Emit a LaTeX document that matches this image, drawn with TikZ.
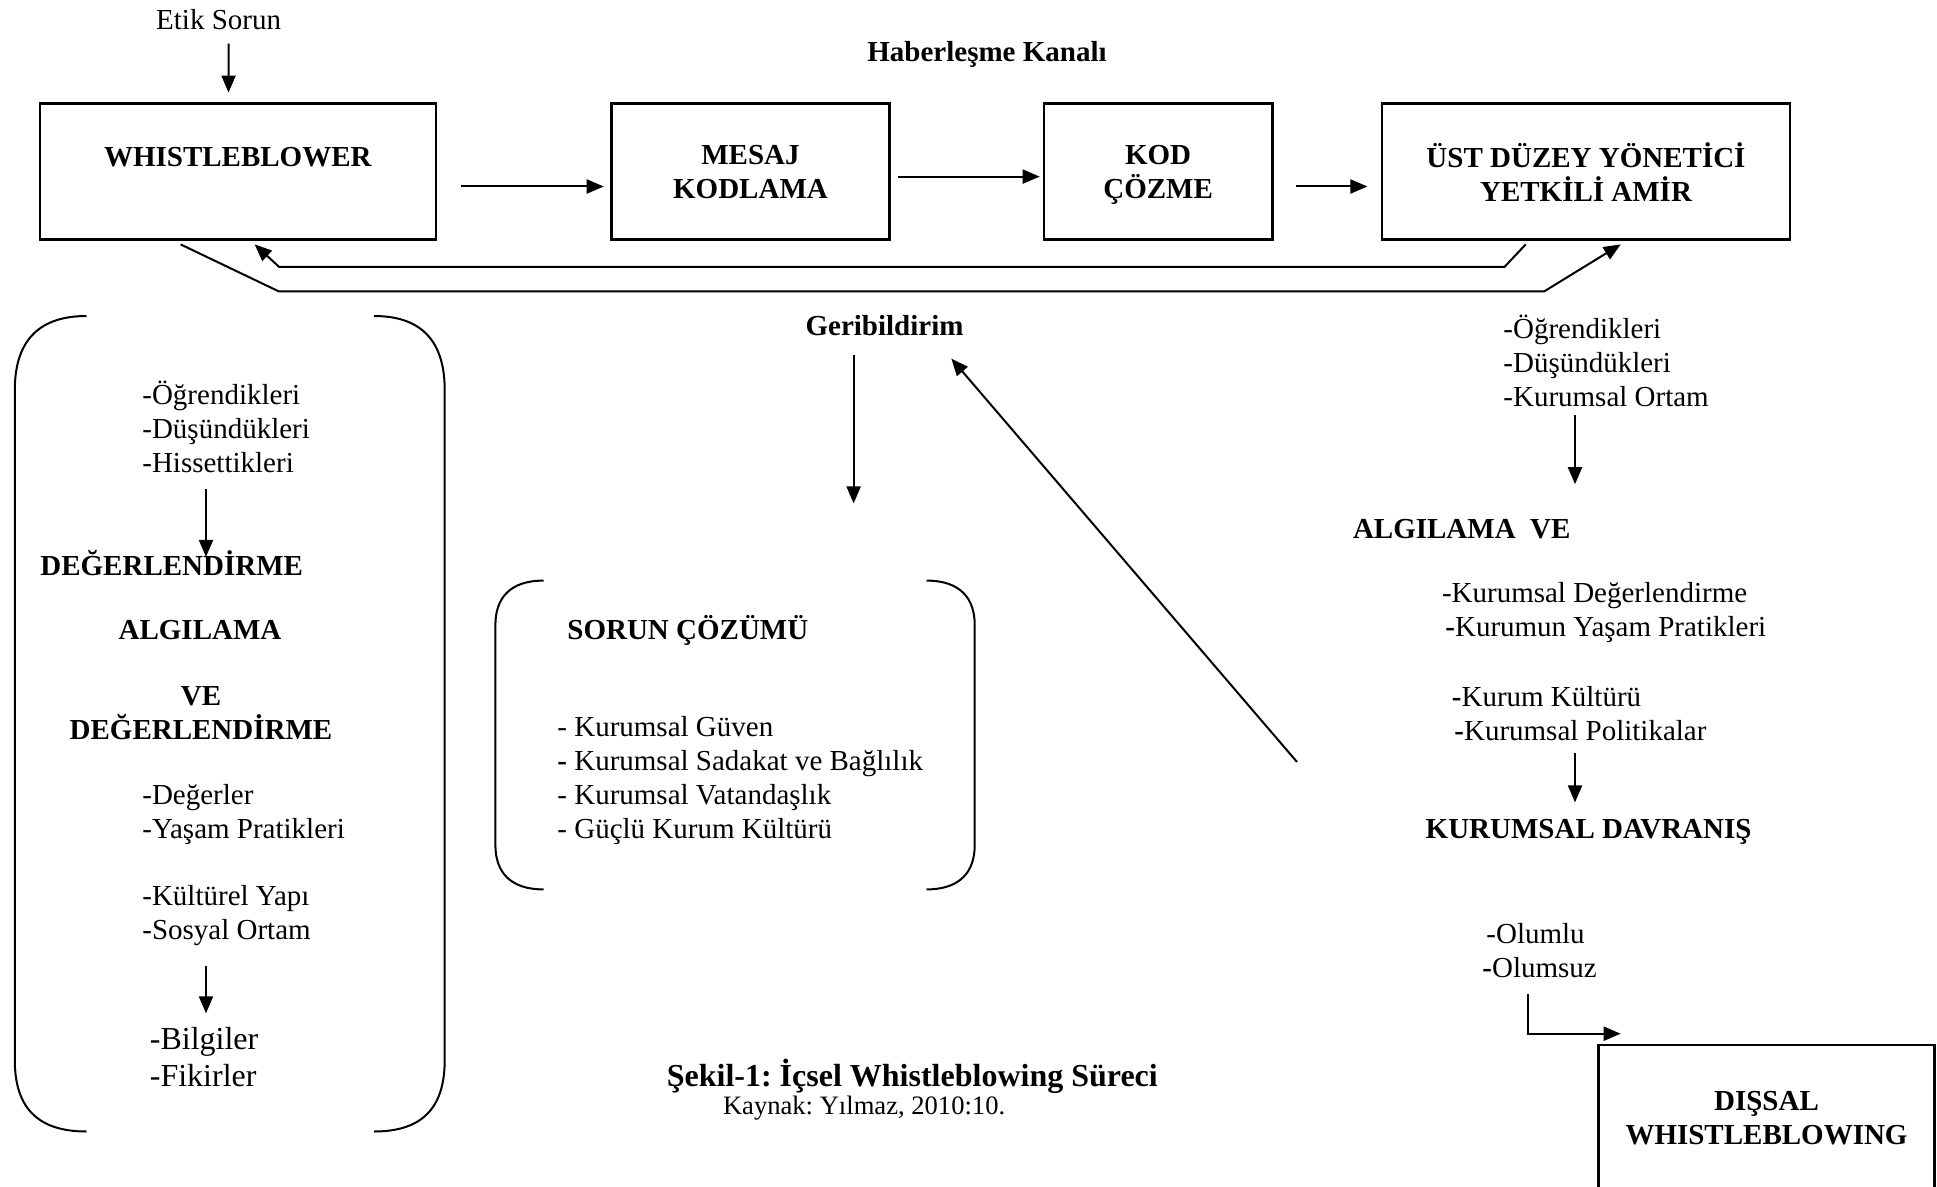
\documentclass[tikz,border=0pt]{standalone}
\usepackage{fontspec}
\setmainfont{Liberation Serif}
\frenchspacing
\usetikzlibrary{arrows.meta, positioning}
\tikzstyle{arrow} = [line width=1pt,-{Triangle[length=8.5pt,width=7pt]}]
\tikzstyle{blok} = [draw, line width=1.3pt, inner sep=0pt, align=center, text depth=0pt, font=\fontsize{14.5}{17}\selectfont\bfseries]
\tikzstyle{baslik} = [inner sep=0pt, align=center, font=\fontsize{14.5}{17}\selectfont\bfseries]
\tikzstyle{yazi} = [inner sep=0pt, align=left, anchor=west, font=\fontsize{14.5}{17}\selectfont]
\tikzstyle{parantez} = [line width=1pt]

\begin{document}
\begin{tikzpicture}[x=0.5pt,y=-0.5pt]
  \useasboundingbox (0,0) rectangle (1937,1187);

  \node[yazi, anchor=center] (etik) at (218.6,19.8) {Etik Sorun};
  \node[baslik] (kanal) at (987,54) {Haberleşme Kanalı};
  \node[blok, minimum width=198pt, minimum height=68pt] (wb) at (237.8,171.7) {};
  \node[baslik] (wbyazi) at (237.8,157) {WHISTLEBLOWER};
  \node[blok, minimum width=139pt, minimum height=68pt] (mesaj) at (750.5,171.7) {MESAJ\\KODLAMA};
  \node[blok, minimum width=114.3pt, minimum height=68pt] (kod) at (1158.1,171.7) {KOD\\ÇÖZME};
  \node[blok, minimum width=204pt, minimum height=68pt] (ust) at (1586,171.7) {ÜST DÜZEY YÖNETİCİ\\YETKİLİ AMİR};

  \draw[arrow] ([xshift=5pt,yshift=-6.6pt]etik.south) -- ([xshift=-4.65pt,yshift=4.9pt]wb.north);
  \draw[arrow] ([xshift=11.75pt,yshift=-7.4pt]wb.east) -- ([xshift=-3.25pt,yshift=-7.4pt]mesaj.west);
  \draw[arrow] ([xshift=3.8pt,yshift=-2.45pt]mesaj.east) -- ([xshift=-1.4pt,yshift=-2.45pt]kod.west);
  \draw[arrow] ([xshift=11.1pt,yshift=-7.4pt]kod.east) -- ([xshift=-6.65pt,yshift=-7.4pt]ust.west);

  \draw[arrow] ([xshift=72.5pt,yshift=-1.7pt]ust.south west) -- (1504.6,266.8) -- (279,266.8)
    -- ([xshift=108.1pt,yshift=-1.7pt]wb.south west);
  \draw[arrow] ([xshift=71.05pt,yshift=-1.7pt]wb.south west) -- (279,291.5) -- (1544,291.5)
    -- ([xshift=120pt,yshift=-1.7pt]ust.south west);

  \node[baslik] (geri) at (884.5,326) {Geribildirim};
  \draw[arrow] ([xshift=-15.45pt,yshift=-9.25pt]geri.south) -- ++(0,-74.15pt);

  \draw[parantez] (86.5,316) .. controls (35,316) and (14.8,345) .. (14.8,390) -- (14.8,1060)
    .. controls (14.8,1105) and (35,1131.5) .. (86.5,1131.5);
  \draw[parantez] (374,316) .. controls (425,316) and (444.7,345) .. (444.7,390) -- (444.7,1060)
    .. controls (444.7,1105) and (425,1131.5) .. (374,1131.5);

  \node[yazi] (ogren1) at (142,426.6) {-Öğrendikleri\\-Düşündükleri\\-Hissettikleri};
  \draw[arrow] ([xshift=32pt,yshift=-8pt]ogren1.south west) -- ++(0,-34pt);
  \node[baslik] (deger1) at (171.7,563.3) {DEĞERLENDİRME};
  \node[baslik] (algi1) at (200,630) {ALGILAMA};
  \node[baslik] (ve1) at (201,713.4) {VE\\DEĞERLENDİRME};
  \node[yazi] (deger2) at (142,814.7) {-Değerler\\-Yaşam Pratikleri};
  \node[yazi] (kultur) at (142,915.8) {-Kültürel Yapı\\-Sosyal Ortam};
  \draw[arrow] ([xshift=32pt,yshift=-10pt]kultur.south west) -- ++(0,-23.5pt);
  \node[yazi, font=\fontsize{16}{18.5}\selectfont] (bilgi) at (149.5,1057.5) {-Bilgiler\\-Fikirler};

  \draw[parantez] (543.5,580.6) .. controls (510,580.6) and (495.4,598) .. (495.4,625) -- (495.4,845)
    .. controls (495.4,872) and (510,889.4) .. (543.5,889.4);
  \draw[parantez] (926.5,580.6) .. controls (960,580.6) and (974.7,598) .. (974.7,625) -- (974.7,845)
    .. controls (974.7,872) and (960,889.4) .. (926.5,889.4);
  \node[baslik, anchor=west] (sorun) at (567,630) {SORUN ÇÖZÜMÜ};
  \node[yazi] (guven) at (557,780.7) {- Kurumsal Güven\\\textbf{-} Kurumsal Sadakat ve Bağlılık\\- Kurumsal Vatandaşlık\\- Güçlü Kurum Kültürü};

  \node[yazi] (ogren2) at (1503,360.4) {-Öğrendikleri\\-Düşündükleri\\-Kurumsal Ortam};
  \draw[arrow] ([xshift=36pt,yshift=-4pt]ogren2.south west) -- ++(0,-34.75pt);
  \node[baslik, anchor=west] (algi2) at (1352.6,528.7) {ALGILAMA\ \ VE};
  \node[yazi] (kurum1) at (1441.6,612.7) {-Kurumsal Değerlendirme\\\hspace*{1.7pt}\textbf{-}Kurumun Yaşam Pratikleri};
  \node[yazi] (kurum2) at (1451.5,713.4) {\textbf{-}Kurum Kültürü\\\hspace*{1.25pt}\textbf{-}Kurumsal Politikalar};
  \draw[arrow] ([xshift=61.75pt,yshift=-6pt]kurum2.south west) -- ++(0,-24.7pt);
  \node[baslik] (davranis) at (1588.6,831.4) {KURUMSAL DAVRANIŞ};
  \node[yazi] (olum) at (1482,950.5) {\hspace*{2pt}-Olumlu\\\textbf{-}Olumsuz};
  \node[blok, minimum width=168pt, minimum height=72.5pt] (dissal) at (1766.5,1117.5) {DIŞSAL\\WHISTLEBLOWING};
  \draw[arrow] ([xshift=23pt,yshift=-8pt]olum.south west) |- ([xshift=11.75pt,yshift=5pt]dissal.north west);

  \coordinate (geriuc) at (1297,762);
  \draw[arrow] (geriuc) -- ([xshift=-6.25pt,yshift=-11pt]geri.south east);

  \node[baslik, font=\fontsize{16}{19}\selectfont\bfseries] (sekil) at (912.3,1076) {Şekil-1: İçsel Whistleblowing Süreci};
  \node[yazi, font=\fontsize{13.3}{16}\selectfont] (kaynak) at (722.6,1108) {Kaynak: Yılmaz, 2010:10.};
\end{tikzpicture}
\end{document}
